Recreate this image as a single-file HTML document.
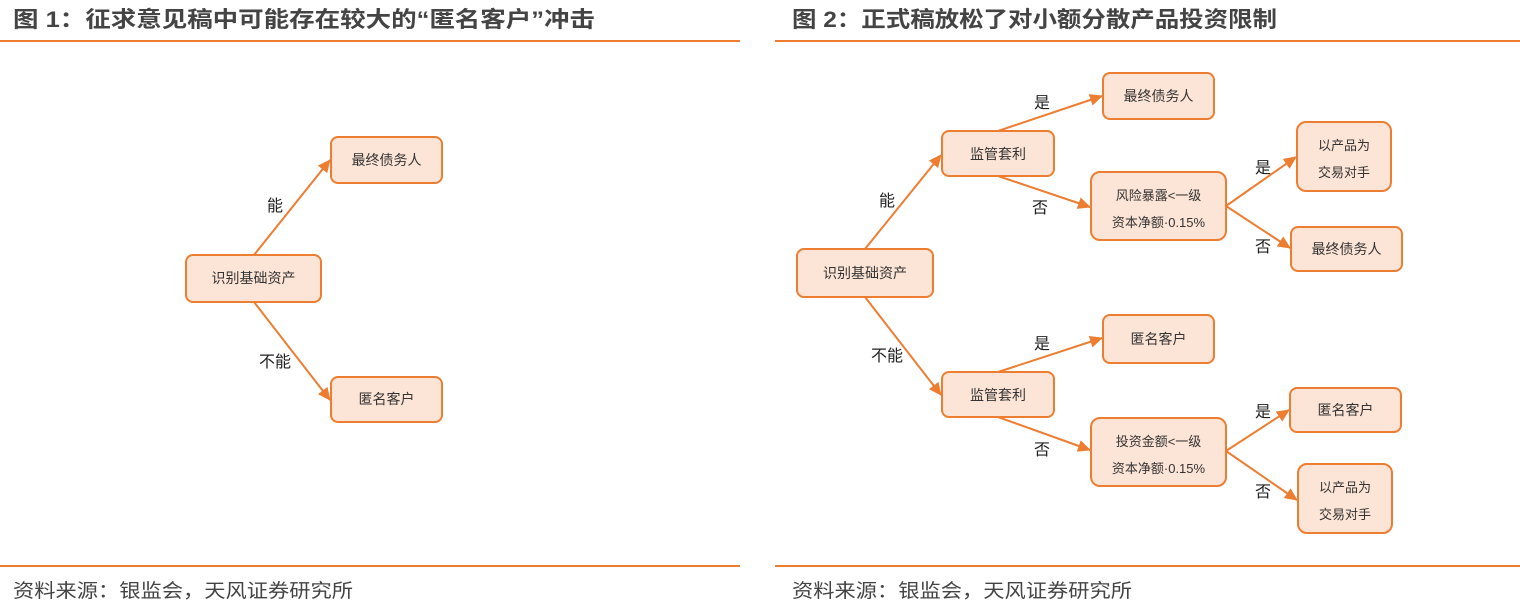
<!DOCTYPE html>
<html><head><meta charset="utf-8"><style>
html,body{margin:0;padding:0;background:#fff;width:1520px;height:607px;overflow:hidden}
svg text{font-family:"Liberation Sans","Noto Sans CJK SC",sans-serif}
.t{font-size:22px;font-weight:bold;fill:#444}
.s{font-size:19px;fill:#444}
.b{fill:#fce4d6;stroke:#ed7d31;stroke-width:2}
.n{font-size:14px;fill:#333;text-anchor:middle}
.l{font-size:16px;fill:#222;text-anchor:middle}
.c{stroke:#ed7d31;stroke-width:2;fill:none;marker-end:url(#a)}
</style></head><body>
<svg width="1520" height="607" xmlns="http://www.w3.org/2000/svg">
<defs><marker id="a" markerWidth="13" markerHeight="12" refX="12" refY="6" orient="auto" markerUnits="userSpaceOnUse"><path d="M0,0 L13,6 L0,12 z" fill="#ed7d31"/></marker></defs>
<text class="t" x="13" y="27" textLength="582" lengthAdjust="spacingAndGlyphs">图 1：征求意见稿中可能存在较大的“匿名客户”冲击</text>
<text class="t" x="792" y="27" textLength="485" lengthAdjust="spacingAndGlyphs">图 2：正式稿放松了对小额分散产品投资限制</text>
<rect x="0" y="40" width="740" height="2" fill="#ed7d31"/>
<rect x="775" y="40" width="745" height="2" fill="#ed7d31"/>
<rect x="0" y="565" width="740" height="2" fill="#ed7d31"/>
<rect x="775" y="565" width="745" height="2" fill="#ed7d31"/>
<text class="s" x="13" y="597" textLength="340" lengthAdjust="spacingAndGlyphs">资料来源：银监会，天风证券研究所</text>
<text class="s" x="792" y="597" textLength="340" lengthAdjust="spacingAndGlyphs">资料来源：银监会，天风证券研究所</text>

<!-- left -->
<line class="c" x1="254" y1="255" x2="330" y2="160"/>
<line class="c" x1="254" y1="302" x2="330" y2="400"/>
<text class="l" x="275" y="211">能</text>
<text class="l" x="275" y="367">不能</text>
<rect class="b" x="186" y="255" width="135" height="47" rx="7"/>
<text class="n" x="253.5" y="283">识别基础资产</text>
<rect class="b" x="331" y="137" width="111" height="46" rx="7"/>
<text class="n" x="386.5" y="165">最终债务人</text>
<rect class="b" x="331" y="377" width="111" height="45" rx="7"/>
<text class="n" x="386.5" y="404">匿名客户</text>

<!-- right -->
<line class="c" x1="865" y1="249" x2="941" y2="155"/>
<line class="c" x1="865" y1="297" x2="941" y2="395"/>
<line class="c" x1="998" y1="131" x2="1102" y2="96"/>
<line class="c" x1="998" y1="176" x2="1090" y2="207"/>
<line class="c" x1="1226" y1="206" x2="1296" y2="157"/>
<line class="c" x1="1226" y1="206" x2="1290" y2="248"/>
<line class="c" x1="998" y1="372" x2="1102" y2="338"/>
<line class="c" x1="998" y1="417" x2="1090" y2="450"/>
<line class="c" x1="1226" y1="451" x2="1289" y2="410"/>
<line class="c" x1="1226" y1="451" x2="1297" y2="500"/>
<text class="l" x="1042" y="108">是</text>
<text class="l" x="1040" y="213">否</text>
<text class="l" x="1263" y="173">是</text>
<text class="l" x="1263" y="252">否</text>
<text class="l" x="887" y="206">能</text>
<text class="l" x="887" y="361">不能</text>
<text class="l" x="1042" y="349">是</text>
<text class="l" x="1042" y="455">否</text>
<text class="l" x="1263" y="417">是</text>
<text class="l" x="1263" y="497">否</text>

<rect class="b" x="797" y="249" width="136" height="48" rx="7"/>
<text class="n" x="865" y="278">识别基础资产</text>
<rect class="b" x="942" y="131" width="112" height="45" rx="7"/>
<text class="n" x="998" y="159">监管套利</text>
<rect class="b" x="1103" y="73" width="111" height="46" rx="7"/>
<text class="n" x="1158.5" y="101">最终债务人</text>
<rect class="b" x="1091" y="172" width="135" height="68" rx="9"/>
<text class="n" x="1158.5" y="200" style="font-size:13px">风险暴露&lt;一级</text>
<text class="n" x="1158.5" y="227" style="font-size:13px">资本净额·0.15%</text>
<rect class="b" x="1297" y="122" width="94" height="69" rx="9"/>
<text class="n" x="1344" y="150" style="font-size:13px">以产品为</text>
<text class="n" x="1344" y="177" style="font-size:13px">交易对手</text>
<rect class="b" x="1291" y="227" width="111" height="44" rx="7"/>
<text class="n" x="1346.5" y="254">最终债务人</text>
<rect class="b" x="942" y="372" width="112" height="45" rx="7"/>
<text class="n" x="998" y="400">监管套利</text>
<rect class="b" x="1103" y="315" width="111" height="48" rx="7"/>
<text class="n" x="1158.5" y="344">匿名客户</text>
<rect class="b" x="1091" y="418" width="135" height="68" rx="9"/>
<text class="n" x="1158.5" y="446" style="font-size:13px">投资金额&lt;一级</text>
<text class="n" x="1158.5" y="473" style="font-size:13px">资本净额·0.15%</text>
<rect class="b" x="1290" y="388" width="111" height="44" rx="7"/>
<text class="n" x="1345.5" y="415">匿名客户</text>
<rect class="b" x="1298" y="464" width="94" height="69" rx="9"/>
<text class="n" x="1345" y="492" style="font-size:13px">以产品为</text>
<text class="n" x="1345" y="519" style="font-size:13px">交易对手</text>
</svg>
</body></html>
